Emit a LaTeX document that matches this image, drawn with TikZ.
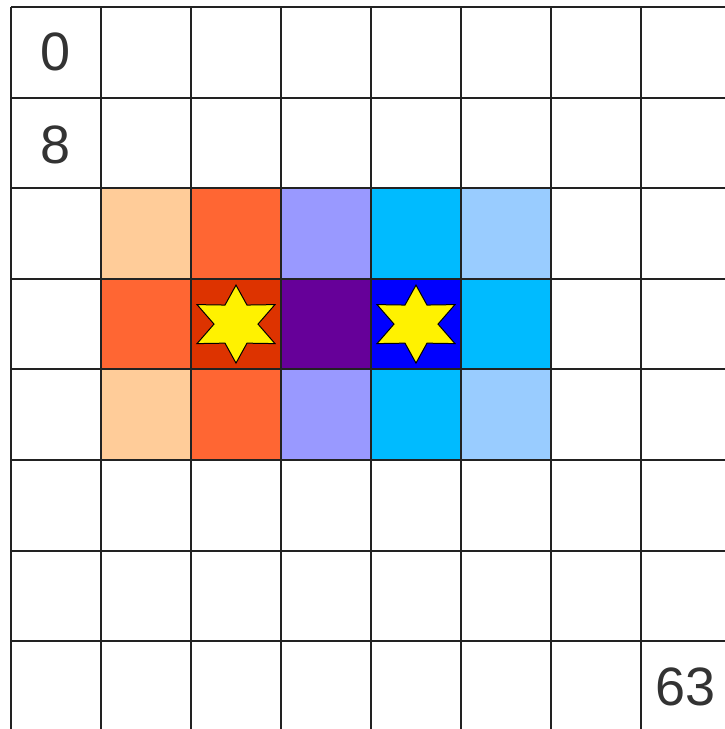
\documentclass[tikz,border=0pt]{standalone}
\usepackage{fontspec}
\setmainfont{Liberation Sans}
\definecolor{peach}{HTML}{FFCC99}
\definecolor{orng}{HTML}{FF6633}
\definecolor{redc}{HTML}{DD3300}
\definecolor{lav}{HTML}{9999FF}
\definecolor{purp}{HTML}{660099}
\definecolor{sky}{HTML}{00BBFF}
\definecolor{lblue}{HTML}{99CCFF}
\definecolor{bluec}{HTML}{0000FF}
\definecolor{gridc}{HTML}{222222}
\definecolor{txtc}{HTML}{333333}
\tikzset{
  gridline/.style={draw=gridc, line width=2pt},
  numlabel/.style={text=txtc, font=\fontsize{54}{54}\selectfont, inner sep=0pt},
  starshape/.style={fill=yellow, draw=black, line width=1pt, line join=miter},
}
\begin{document}
\begin{tikzpicture}[x=1pt,y=-1pt]
\useasboundingbox (0,0) rectangle (725,729);
\clip (0,0) rectangle (725,729);
\def\cw{90}
\def\ch{90.6}
% coloured cells: col/row/colour
\foreach \c/\r/\col in {1/2/peach,2/2/orng,3/2/lav,4/2/sky,5/2/lblue,
                        1/3/orng,2/3/redc,3/3/purp,4/3/bluec,5/3/sky,
                        1/4/peach,2/4/orng,3/4/lav,4/4/sky,5/4/lblue}{
  \fill[\col] ({11+\cw*\c},{7+\ch*\r}) rectangle ++(\cw,\ch);
}
% grid
\foreach \i in {0,...,8}{
  \draw[gridline] ({11+\cw*\i},7) -- ({11+\cw*\i},760);
  \draw[gridline] (11,{7+\ch*\i}) -- (760,{7+\ch*\i});
}
% stars
\coordinate (s1) at ({11+\cw*2.5},{7+\ch*3.5});
\coordinate (s2) at ({11+\cw*4.5},{7+\ch*3.5});
\foreach \s in {s1,s2}{
  \draw[starshape, shift={(\s)}] (0,39) -- (-11,19.05) -- (-38.97,19.5) -- (-22,0)
    -- (-38.97,-19.5) -- (-11,-19.05) -- (0,-39) -- (11,-19.05) -- (38.97,-19.5)
    -- (22,0) -- (38.97,19.5) -- (11,19.05) -- cycle;
}
% labels
\node[numlabel] (n0) at ({11+\cw*0.5},{7+\ch*0.5}) {0};
\node[numlabel] (n8) at ({11+\cw*0.5},{7+\ch*1.5+2}) {8};
\node[numlabel] (n63) at ({11+\cw*7.5},{7+\ch*7.5}) {63};
\end{tikzpicture}
\end{document}
